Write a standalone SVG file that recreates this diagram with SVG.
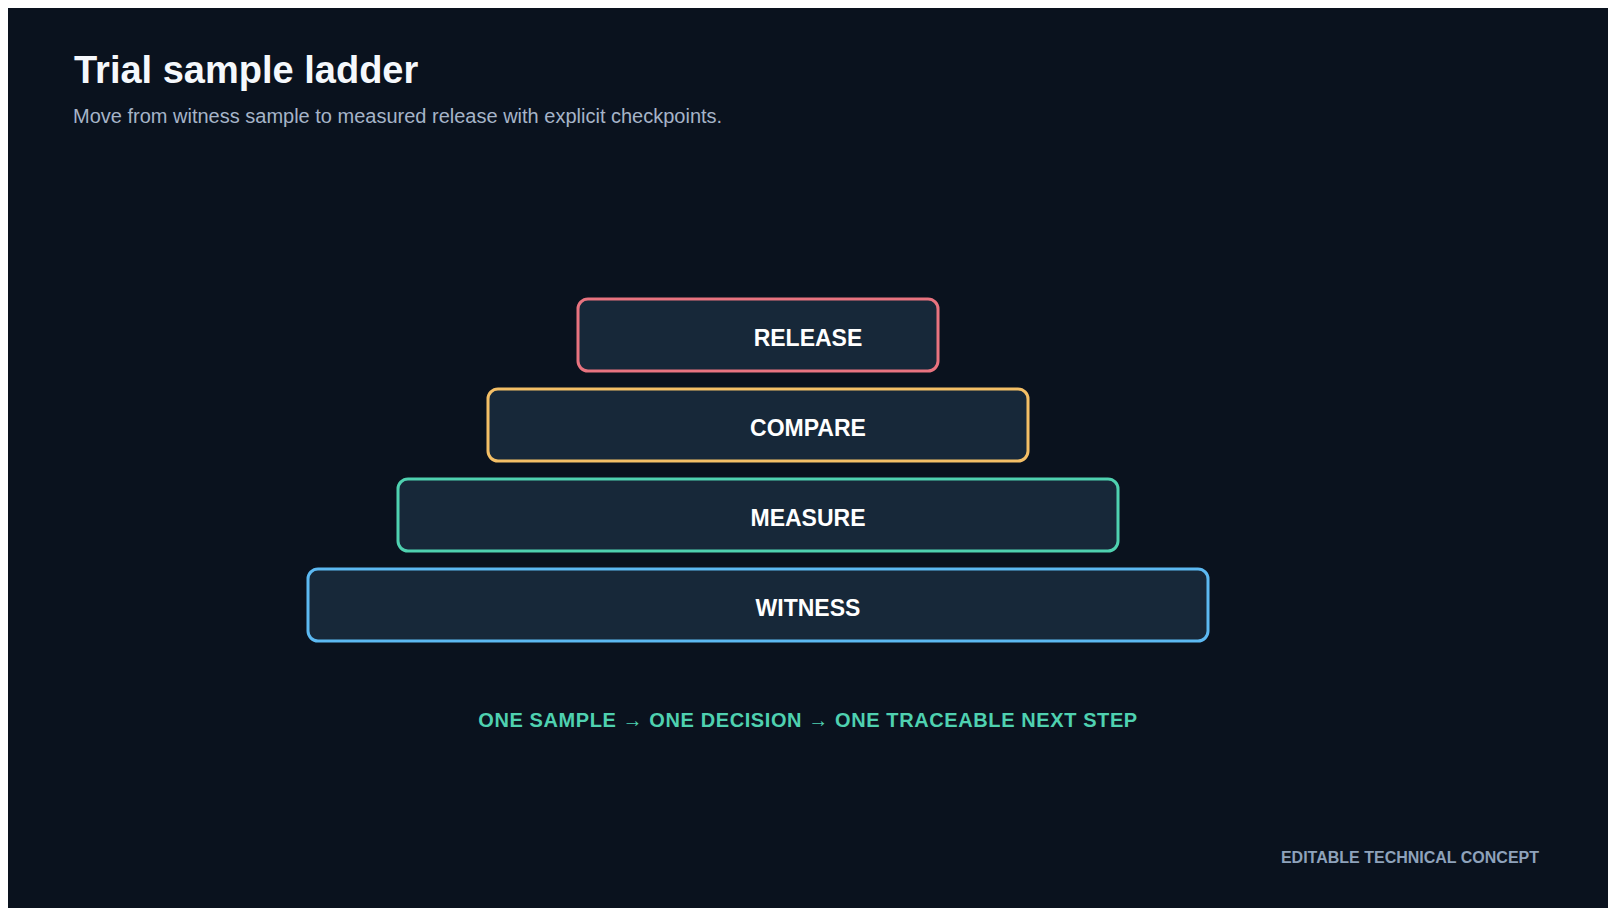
<svg xmlns="http://www.w3.org/2000/svg" width="1608" height="916" viewBox="0 0 1608 916">
  <style>
    .title { font-family: "Liberation Sans", Arial, sans-serif; font-weight: 700; font-size: 38px; fill: #f5f8fc; }
    .sub { font-family: "Liberation Sans", Arial, sans-serif; font-size: 20px; fill: #a6b4c8; }
    .box { fill: #172839; stroke-width: 3; }
    .lbl { font-family: "Liberation Sans", Arial, sans-serif; font-weight: 700; font-size: 23px; fill: #ffffff; text-anchor: middle; }
    .tag { font-family: "Liberation Sans", Arial, sans-serif; font-weight: 700; font-size: 20px; letter-spacing: 0.6px; fill: #4fd1b0; text-anchor: middle; }
    .foot { font-family: "Liberation Sans", Arial, sans-serif; font-weight: 700; font-size: 16px; fill: #8ea2bb; text-anchor: end; }
  </style>
  <rect x="0" y="0" width="1608" height="916" fill="#ffffff"/>
  <rect x="8" y="8" width="1600" height="900" fill="#0a121e"/>

  <text class="title" x="74" y="83">Trial sample ladder</text>
  <text class="sub" x="73" y="123">Move from witness sample to measured release with explicit checkpoints.</text>

  <g id="connectors"></g>

  <g id="node-release">
    <rect class="box" x="578" y="299" width="360" height="72" rx="10" stroke="#e8737f"/>
    <text class="lbl" x="808" y="346">RELEASE</text>
  </g>
  <g id="node-compare">
    <rect class="box" x="488" y="389" width="540" height="72" rx="10" stroke="#f4bf66"/>
    <text class="lbl" x="808" y="436">COMPARE</text>
  </g>
  <g id="node-measure">
    <rect class="box" x="398" y="479" width="720" height="72" rx="10" stroke="#4fd1b0"/>
    <text class="lbl" x="808" y="526">MEASURE</text>
  </g>
  <g id="node-witness">
    <rect class="box" x="308" y="569" width="900" height="72" rx="10" stroke="#5cb9f2"/>
    <text class="lbl" x="808" y="616">WITNESS</text>
  </g>

  <text class="tag" x="808" y="727">ONE SAMPLE → ONE DECISION → ONE TRACEABLE NEXT STEP</text>
  <text class="foot" x="1539" y="863">EDITABLE TECHNICAL CONCEPT</text>
</svg>
